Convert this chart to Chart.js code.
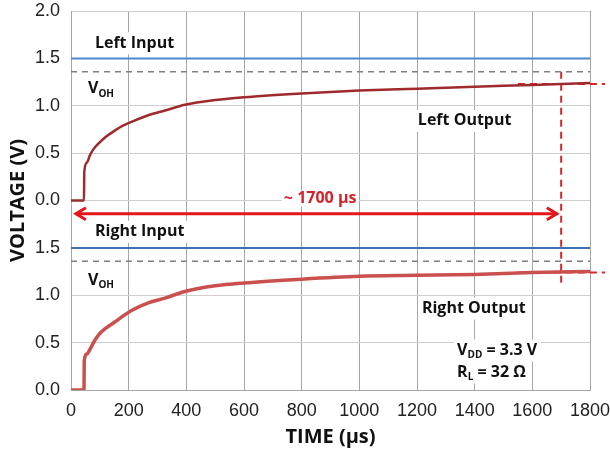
<!DOCTYPE html>
<html>
<head>
<meta charset="utf-8">
<script src="https://cdn.jsdelivr.net/npm/chart.js@4.4.1/dist/chart.umd.min.js"></script>
<style>
  body { margin: 0; background: #fff; }
</style>
</head>
<body>
<canvas id="voltageChart" width="610" height="452"></canvas>
<script>
// both panels share one axis, the top panel sits 2 V higher
const panelOffset = 2;

const timeUs      = [0, 45, 46, 55, 66, 80, 95, 120, 153, 180, 210, 268, 326, 395, 500, 600, 800, 1000, 1200, 1400, 1600, 1800];
const leftOutput  = [0, 0, 0.30, 0.40, 0.48, 0.55, 0.60, 0.67, 0.74, 0.79, 0.83, 0.90, 0.95, 1.01, 1.06, 1.09, 1.13, 1.16, 1.18, 1.20, 1.22, 1.24];
const rightOutput = [0, 0, 0.31, 0.38, 0.43, 0.51, 0.58, 0.65, 0.72, 0.78, 0.84, 0.92, 0.97, 1.04, 1.10, 1.13, 1.17, 1.20, 1.21, 1.22, 1.24, 1.25];

const inputTime  = [0, 1800];
const leftInput  = [1.5, 1.5];
const rightInput = [1.5, 1.5];
const vohLevel   = [1.36, 1.36];

// red markers: output level at ~1700 us
const markerTime  = [1550, 1852];
const leftMarker  = [1.23, 1.23];
const rightMarker = [1.24, 1.24];
const delayTime   = [1700, 1700];
const delayLevel  = [1.36 + panelOffset, 1.10]; // top VOH down into the bottom panel
const arrowTime   = [17, 1685];
const arrowLevel  = [1.86, 1.86];

const xTickValues = [0, 200, 400, 600, 800, 1000, 1200, 1400, 1600, 1800];
const yTickLabels = ['0.0', '0.5', '1.0', '1.5', '0.0', '0.5', '1.0', '1.5', '2.0'];

function pts(xs, ys, shift) {
    return xs.map((t, i) => ({ x: t, y: ys[i] + (shift || 0) }));
}

const labelFont = 'bold 16px "Open Sans"';
const subFont = 'bold 10px "Open Sans"';

const labelList = [
    { t: 83,   v: 1.66 + panelOffset, parts: [{ text: 'Left Input' }] },
    { t: 59,   v: 1.18 + panelOffset, parts: [{ text: 'V' }, { text: 'OH', sub: true }] },
    { t: 1203, v: 0.84 + panelOffset, parts: [{ text: 'Left Output' }] },
    { t: 864,  v: 2.02, parts: [{ text: '~ 1700 \u00b5s' }], center: true, color: '#d3222a', tight: true },
    { t: 83,   v: 1.67, parts: [{ text: 'Right Input' }] },
    { t: 59,   v: 1.155, parts: [{ text: 'V' }, { text: 'OH', sub: true }] },
    { t: 1217, v: 0.86, parts: [{ text: 'Right Output' }] },
    { t: 1339, v: 0.417, parts: [{ text: 'V' }, { text: 'DD', sub: true }, { text: ' = 3.3 V' }] },
    { t: 1339, v: 0.185, parts: [{ text: 'R' }, { text: 'L', sub: true }, { text: ' = 32 \u03a9' }] }
];

const annotate = {
    id: 'annotate',
    afterDatasetsDraw(chart) {
        const ctx = chart.ctx;
        const x = chart.scales.x, y = chart.scales.y;

        // arrow heads on the delay arrow
        const meta = chart.getDatasetMeta(chart.data.datasets.length - 1);
        const a = meta.data[0], b = meta.data[meta.data.length - 1];
        ctx.save();
        ctx.strokeStyle = '#e3161c';
        ctx.lineWidth = 3;
        ctx.beginPath();
        ctx.moveTo(a.x + 10, a.y - 6); ctx.lineTo(a.x, a.y); ctx.lineTo(a.x + 10, a.y + 6);
        ctx.moveTo(b.x - 10, b.y - 6); ctx.lineTo(b.x, b.y); ctx.lineTo(b.x - 10, b.y + 6);
        ctx.stroke();
        ctx.restore();

        labelList.forEach(lab => {
            ctx.save();
            const widths = lab.parts.map(p => {
                ctx.font = p.sub ? subFont : labelFont;
                return ctx.measureText(p.text).width;
            });
            const total = widths.reduce((s, w) => s + w, 0);
            let px = x.getPixelForValue(lab.t);
            const py = y.getPixelForValue(lab.v);
            if (lab.center) px -= total / 2;
            ctx.fillStyle = '#fff';
            if (lab.tight) ctx.fillRect(px - 2, py - 8, total + 4, 16);
            else ctx.fillRect(px - 3, py - 11, total + 6, 22);
            ctx.fillStyle = lab.color || '#111';
            ctx.textBaseline = 'middle';
            ctx.textAlign = 'left';
            lab.parts.forEach((p, i) => {
                ctx.font = p.sub ? subFont : labelFont;
                ctx.fillText(p.text, px, p.sub ? py + 5 : py);
                px += widths[i];
            });
            ctx.restore();
        });
    }
};

// drop the automatic label overhang, layout padding sets the frame instead
function noOverhang(s) {
    s.paddingTop = 0; s.paddingBottom = 0; s.paddingLeft = 0; s.paddingRight = 0;
}

new Chart(document.getElementById('voltageChart'), {
    type: 'line',
    data: {
        datasets: [
            { data: pts(inputTime, leftInput, panelOffset), borderColor: '#4f86d0', borderWidth: 2 },
            { data: pts(inputTime, vohLevel, panelOffset), borderColor: '#7f7f7f', borderWidth: 1.5, borderDash: [6, 5] },
            { data: pts(timeUs, leftOutput, panelOffset), borderColor: '#9e2a2e', borderWidth: 2.5, cubicInterpolationMode: 'monotone' },
            { data: pts(inputTime, rightInput), borderColor: '#3c6fb5', borderWidth: 2 },
            { data: pts(inputTime, vohLevel), borderColor: '#7f7f7f', borderWidth: 1.5, borderDash: [6, 5] },
            { data: pts(timeUs, rightOutput), borderColor: '#c9504e', borderWidth: 3.5, cubicInterpolationMode: 'monotone' },
            { data: pts(markerTime, leftMarker, panelOffset), borderColor: '#d9262c', borderWidth: 2, borderDash: [7, 5], clip: false },
            { data: pts(markerTime, rightMarker), borderColor: '#d9262c', borderWidth: 2, borderDash: [7, 5], clip: false },
            { data: pts(delayTime, delayLevel), borderColor: '#d9262c', borderWidth: 2, borderDash: [7, 5] },
            { data: pts(arrowTime, arrowLevel), borderColor: '#e3161c', borderWidth: 3 }
        ]
    },
    options: {
        responsive: false,
        animation: false,
        devicePixelRatio: 1,
        elements: { point: { radius: 0 }, line: { tension: 0 } },
        layout: { padding: { top: 11, right: 20, left: 0, bottom: 0 } },
        plugins: { legend: { display: false }, tooltip: { enabled: false } },
        scales: {
            x: {
                type: 'linear',
                min: 0,
                max: 1800,
                afterBuildTicks: s => { s.ticks = xTickValues.map(v => ({ value: v })); },
                afterFit: s => { s.height = 62; noOverhang(s); },
                grid: { color: '#a6a6a6', drawTicks: false },
                border: { color: '#a6a6a6' },
                ticks: { padding: 10, color: '#222', font: { family: '"Liberation Sans", Arial', size: 18 },
                         callback: v => String(v) },
                title: { display: true, text: 'TIME (\u00b5s)', color: '#111', padding: { top: 0, bottom: 3 },
                         font: { family: '"Open Sans"', size: 20, weight: 'bold' } }
            },
            y: {
                min: 0,
                max: 4,
                afterFit: s => { s.width = 71; noOverhang(s); },
                grid: { color: '#cfcfcf', drawTicks: false },
                border: { color: '#a6a6a6' },
                ticks: {
                    stepSize: 0.5,
                    padding: 11,
                    color: '#222',
                    font: { family: '"Liberation Sans", Arial', size: 18 },
                    callback: (v, i) => yTickLabels[i]
                },
                title: { display: true, text: 'VOLTAGE (V)', color: '#111', padding: { top: 6, bottom: 0 },
                         font: { family: '"Open Sans"', size: 20, weight: 'bold' } }
            }
        }
    },
    plugins: [annotate]
});
</script>
</body>
</html>
